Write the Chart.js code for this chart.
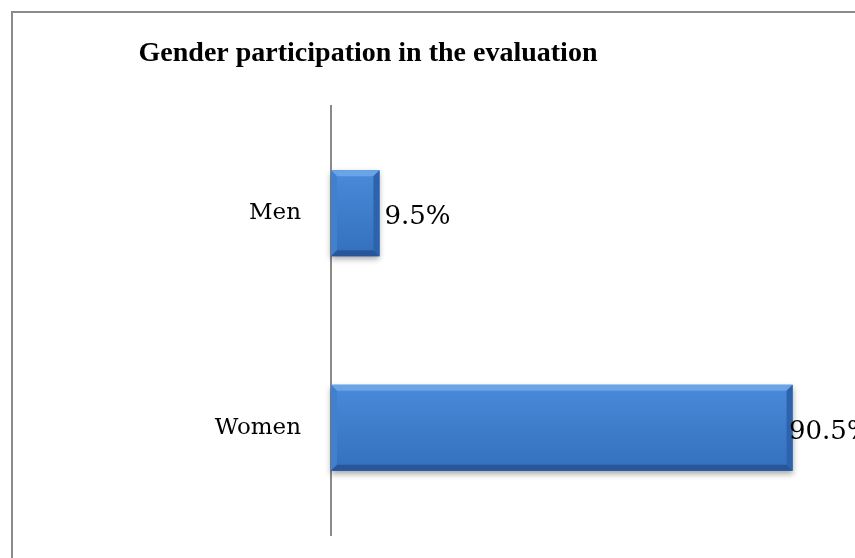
<!DOCTYPE html>
<html>
<head>
<meta charset="utf-8">
<script src="https://cdn.jsdelivr.net/npm/chart.js@4/dist/chart.umd.min.js"></script>
<style>
  html, body { margin: 0; padding: 0; background: #fff; overflow: hidden; }
  canvas { display: block; }
</style>
</head>
<body>
<canvas id="genderChart" width="855" height="558"></canvas>
<script>
const titleText = 'Gender participation in the evaluation';
const categories = ['Men', 'Women'];
const values = [9.5, 90.5];

ctx = document.getElementById('genderChart');

// frame round the chart + title (frame runs off the right/bottom edge)
const framePlugin = {
    id: 'frame',
    beforeDraw(chart) {
        const c = chart.ctx;
        c.save();
        c.fillStyle = '#fff';
        c.fillRect(0, 0, chart.width, chart.height);
        c.strokeStyle = '#8a8a8a';
        c.lineWidth = 2;
        c.beginPath();
        c.moveTo(12, chart.height + 5);
        c.lineTo(12, 12);
        c.lineTo(chart.width + 5, 12);
        c.stroke();
        c.font = 'bold 28px "Liberation Serif", serif';
        c.fillStyle = '#000';
        c.textAlign = 'center';
        c.textBaseline = 'middle';
        c.fillText(titleText, 368, 54);
        c.restore();
    }
};

// bevelled bars and value labels
const bevelPlugin = {
    id: 'bevel',
    afterDatasetsDraw(chart) {
        const c = chart.ctx;
        const meta = chart.getDatasetMeta(0);
        meta.data.forEach((bar, i) => {
            const x0 = bar.base, x1 = bar.x;
            const y0 = bar.y - bar.height / 2, y1 = bar.y + bar.height / 2;
            const b = 6;
            c.save();
            // shadow
            c.shadowColor = 'rgba(0,0,0,0.35)';
            c.shadowBlur = 6;
            c.shadowOffsetY = 3;
            c.fillStyle = '#3a78c6';
            c.fillRect(x0, y0, x1 - x0, y1 - y0);
            c.restore();

            c.save();
            let g = c.createLinearGradient(0, y0, 0, y1);
            g.addColorStop(0, '#4a8ad8');
            g.addColorStop(1, '#3370bd');
            c.fillStyle = g;
            c.fillRect(x0, y0, x1 - x0, y1 - y0);
            // top bevel
            c.fillStyle = '#6aa4e8';
            c.beginPath();
            c.moveTo(x0, y0); c.lineTo(x1, y0); c.lineTo(x1 - b, y0 + b); c.lineTo(x0 + b, y0 + b);
            c.fill();
            // left bevel
            c.fillStyle = '#3f80cf';
            c.beginPath();
            c.moveTo(x0, y0); c.lineTo(x0 + b, y0 + b); c.lineTo(x0 + b, y1 - b); c.lineTo(x0, y1);
            c.fill();
            // right bevel
            c.fillStyle = '#2d63ab';
            c.beginPath();
            c.moveTo(x1, y0); c.lineTo(x1, y1); c.lineTo(x1 - b, y1 - b); c.lineTo(x1 - b, y0 + b);
            c.fill();
            // bottom bevel
            c.fillStyle = '#27579a';
            c.beginPath();
            c.moveTo(x0, y1); c.lineTo(x1, y1); c.lineTo(x1 - b, y1 - b); c.lineTo(x0 + b, y1 - b);
            c.fill();
            c.restore();

            // value label
            c.save();
            c.font = '26px "DejaVu Serif", serif';
            c.fillStyle = '#000';
            c.textBaseline = 'middle';
            const txt = values[i] + '%';
            const lx = Math.min(x1 + 5, chart.width - 66);
            c.fillText(txt, lx, bar.y + 4);
            c.restore();
        });
    }
};

const chartData = {
    labels: categories,
    datasets: [{
        data: values,
        backgroundColor: 'rgba(0,0,0,0)',
        borderWidth: 0,
        barPercentage: 0.4,
        categoryPercentage: 1
    }]
};

drawBarChart = () => {
    new Chart(ctx.getContext('2d'), {
        type: 'bar',
        data: chartData,
        plugins: [framePlugin, bevelPlugin],
        options: {
            indexAxis: 'y',
            responsive: false,
            animation: false,
            layout: { padding: { top: 106, bottom: 23, right: 14, left: 0 } },
            plugins: {
                legend: { display: false },
                tooltip: { enabled: false },
                title: { display: false }
            },
            scales: {
                x: {
                    display: false,
                    min: 0,
                    max: 100
                },
                y: {
                    grid: { display: false, drawTicks: false },
                    border: { display: true, color: '#8a8a8a', width: 2 },
                    ticks: {
                        color: '#000',
                        padding: 30,
                        font: { family: '"DejaVu Serif", serif', size: 23 }
                    },
                    afterFit(scale) {
                        scale.width = 331;
                        scale.paddingTop = 0;
                        scale.paddingBottom = 0;
                    }
                }
            }
        }
    });
}

if (ctx != null) {
    drawBarChart()
} else {
    console.warn("Can not find element");
}
</script>
</body>
</html>
